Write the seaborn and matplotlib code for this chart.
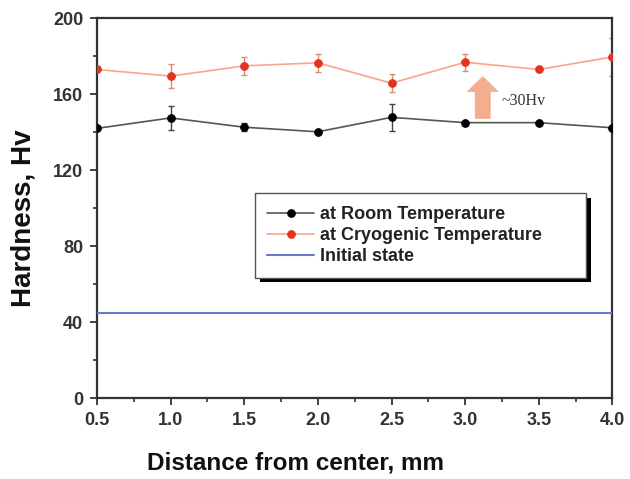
import numpy as np
import pandas as pd
import matplotlib
matplotlib.use("Agg")
import matplotlib.pyplot as plt
import seaborn as sns
from matplotlib.ticker import MultipleLocator
from matplotlib.patches import Rectangle

distance = [0.5, 1.0, 1.5, 2.0, 2.5, 3.0, 3.5, 4.0]
room = [142.0, 147.5, 142.6, 140.2, 147.8, 145.0, 145.0, 142.3]
room_err = [0.0, 6.3, 2.0, 0.0, 7.0, 0.0, 0.0, 0.0]
cryo = [173.0, 169.5, 174.9, 176.5, 165.8, 176.8, 173.0, 179.6]
cryo_err = [0.0, 6.3, 4.7, 4.6, 4.7, 4.4, 0.0, 10.0]
initial = [45.0] * 8
labels = ["at Room Temperature", "at Cryogenic Temperature", "Initial state"]

sns.set_style("ticks")
plt.rcParams["font.family"] = ["Liberation Sans", "DejaVu Sans"]

fig = plt.figure(figsize=(6.30, 4.79), dpi=100)
ax = fig.add_axes([0.154, 0.169, 0.818, 0.793])

df = pd.DataFrame({"x": distance, "room": room, "cryo": cryo, "init": initial})

ax.errorbar(distance, room, yerr=room_err, fmt="none", ecolor="#444444",
            elinewidth=1.0, capsize=2.5, capthick=1.0, zorder=2)
ax.errorbar(distance, cryo, yerr=cryo_err, fmt="none", ecolor="#D98C74",
            elinewidth=1.0, capsize=2.5, capthick=1.0, zorder=2)

sns.lineplot(data=df, x="x", y="room", ax=ax, color="#555555", lw=1.2,
             marker="o", markersize=5.5, markerfacecolor="black",
             markeredgecolor="black", label=labels[0], zorder=3)
sns.lineplot(data=df, x="x", y="cryo", ax=ax, color="#F7A68C", lw=1.2,
             marker="o", markersize=5.5, markerfacecolor="#E5321F",
             markeredgecolor="#E5321F", label=labels[1], zorder=3)
sns.lineplot(data=df, x="x", y="init", ax=ax, color="#6A78CC", lw=1.5,
             label=labels[2], zorder=3)

ax.set_xlim(0.5, 4.0)
ax.set_ylim(0, 200)
ax.xaxis.set_minor_locator(MultipleLocator(0.25))
ax.yaxis.set_major_locator(MultipleLocator(40))
ax.yaxis.set_minor_locator(MultipleLocator(20))
ax.set_xticks(distance)
ax.set_xticklabels([f"{d:.1f}" for d in distance])
ax.tick_params(which="major", direction="out", length=5, width=1.3, pad=5,
               labelsize=13, colors="#333333", labelcolor="#333333")
ax.tick_params(which="minor", direction="out", length=3, width=1.2, colors="#333333")
for lab in ax.get_xticklabels() + ax.get_yticklabels():
    lab.set_fontweight("bold")
for s in ax.spines.values():
    s.set_visible(True)
    s.set_linewidth(1.6)
    s.set_color("#333333")

ax.set_xlabel("Distance from center, mm", fontsize=17.5, fontweight="bold",
              color="#111111")
ax.xaxis.set_label_coords(0.385, -0.142)
ax.set_ylabel("Hardness, Hv", fontsize=20, fontweight="bold", color="#111111")
ax.yaxis.set_label_coords(-0.143, 0.474)
ax.yaxis.label.set_va("center")

leg = ax.legend(loc="upper left", bbox_to_anchor=(0.306, 0.318, 0.642, 0.221),
                mode="expand", borderaxespad=0,
                frameon=True, fancybox=False, framealpha=1.0,
                prop={"weight": "bold", "size": 13}, handlelength=2.6,
                handletextpad=0.3, labelspacing=0.22, borderpad=0.7)
leg.get_frame().set_edgecolor("#555555")
leg.get_frame().set_linewidth(1.0)
leg.set_zorder(6)
for t in leg.get_texts():
    t.set_color("#222222")

fig.canvas.draw()
bb = leg.get_window_extent().transformed(ax.transAxes.inverted())
ax.add_patch(Rectangle((bb.x0 + 0.010, bb.y0 - 0.012), bb.width, bb.height,
                       transform=ax.transAxes, facecolor="black", edgecolor="none",
                       zorder=5))

ax.arrow(3.12, 147.0, 0, 22.5, width=0.108, head_width=0.22, head_length=8.3,
         length_includes_head=True, color="#F0A07C", alpha=0.85, lw=0, zorder=4)
ax.text(3.25, 156.5, "~30Hv", fontsize=11.5, family=["Liberation Serif", "DejaVu Serif"],
        color="#333333", va="center", ha="left")

fig.savefig("out.png", dpi=100)
